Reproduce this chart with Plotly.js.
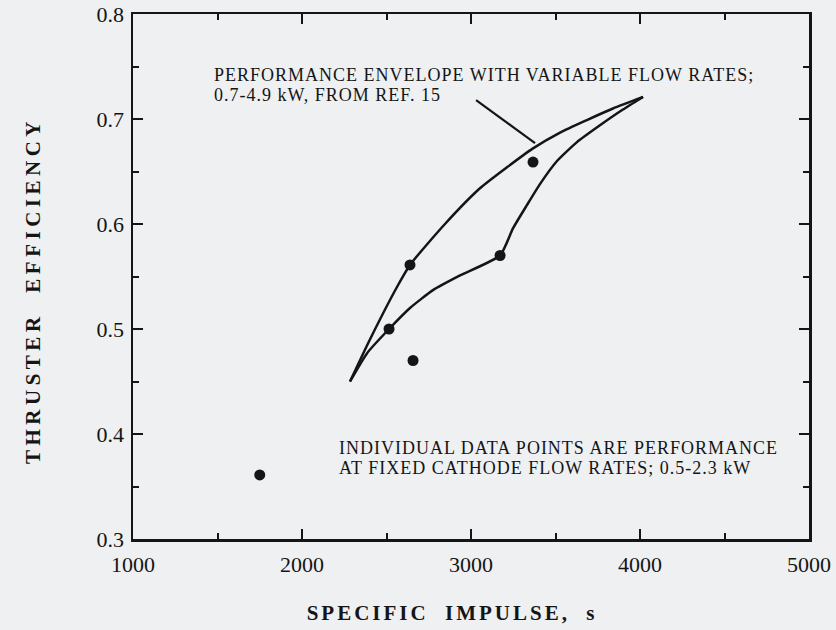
<!DOCTYPE html>
<html>
<head>
<meta charset="utf-8">
<script src="https://cdn.plot.ly/plotly-3.0.1.min.js"></script>
<style>
  html, body { margin: 0; padding: 0; background: #eef0f2; }
  #chart { width: 836px; height: 630px; }
  .xtitle { letter-spacing: 3px; word-spacing: 8px; translate: -19px 0px; }
  .ytitle { letter-spacing: 4.5px; word-spacing: 10px; translate: 0px 14px; }
  .annotation-text { letter-spacing: 1px; }
</style>
</head>
<body>
<div id="chart"></div>
<script>
// Performance envelope (variable flow rates, 0.7-4.9 kW, Ref. 15)
const upperIsp = [2284, 2402, 2562, 2639, 2846, 3053, 3213, 3367, 3527, 3686, 3840, 4018];
const upperEff = [0.450, 0.490, 0.540, 0.561, 0.600, 0.634, 0.654, 0.672, 0.687, 0.699, 0.710, 0.721];
const lowerIsp = [2284, 2385, 2515, 2639, 2775, 2935, 3172, 3249, 3331, 3408, 3509, 3627, 3763, 3899, 4018];
const lowerEff = [0.450, 0.477, 0.500, 0.520, 0.537, 0.551, 0.570, 0.596, 0.618, 0.638, 0.660, 0.678, 0.694, 0.709, 0.721];

// Individual data points at fixed cathode flow rates (0.5-2.3 kW)
const pointIsp = [1750, 2515, 2657, 2639, 3172, 3367];
const pointEff = [0.361, 0.500, 0.470, 0.561, 0.570, 0.659];

// Leader line from the envelope label to the envelope
const leaderIsp = [3030, 3379];
const leaderEff = [0.718, 0.677];

const xTicks = [1000, 2000, 3000, 4000, 5000];
const yTicks = [0.3, 0.4, 0.5, 0.6, 0.7, 0.8];

const envelopeLines = ['PERFORMANCE ENVELOPE WITH VARIABLE FLOW RATES;', '0.7-4.9 kW, FROM REF. 15'];
const envelopeLineY = [0.7422, 0.7230];
const pointsLines = ['INDIVIDUAL DATA POINTS ARE PERFORMANCE', 'AT FIXED CATHODE FLOW RATES; 0.5-2.3 kW'];
const pointsLineY = [0.3869, 0.3677];

const ink = '#151515';
const serif = "'Liberation Serif', 'Times New Roman', serif";

const traces = [
  { x: upperIsp, y: upperEff, mode: 'lines', line: { color: ink, width: 2.5, shape: 'spline', smoothing: 0.6 }, hoverinfo: 'skip' },
  { x: lowerIsp, y: lowerEff, mode: 'lines', line: { color: ink, width: 2.5, shape: 'spline', smoothing: 0.5 }, hoverinfo: 'skip' },
  { x: leaderIsp, y: leaderEff, mode: 'lines', line: { color: ink, width: 2.2 }, hoverinfo: 'skip' },
  { x: pointIsp, y: pointEff, mode: 'markers', marker: { color: ink, size: 11 } }
];

const axisCommon = {
  showgrid: false, zeroline: false,
  showline: true, linecolor: ink, linewidth: 2.5, mirror: 'allticks',
  ticks: 'inside', ticklen: 10, tickwidth: 2, tickcolor: ink,
  tickfont: { family: serif, size: 22, color: ink }
};

const annText = (txt, x, y) => ({
  x: x, y: y, xref: 'x', yref: 'y', xanchor: 'left', yanchor: 'middle', align: 'left',
  showarrow: false, text: txt, font: { family: serif, size: 18, color: ink }
});

const layout = {
  width: 836, height: 630,
  margin: { l: 133, r: 27, t: 14, b: 91 },
  paper_bgcolor: '#eef0f2', plot_bgcolor: '#eef0f2',
  showlegend: false,
  xaxis: Object.assign({}, axisCommon, {
    range: [1000, 5000], tickvals: xTicks, ticktext: xTicks.map(String),
    minor: { dtick: 500, ticks: 'inside', ticklen: 6, tickwidth: 2, tickcolor: ink },
    ticklabelstandoff: 4,
    title: { text: 'SPECIFIC IMPULSE, s', font: { family: serif, size: 21, color: ink, weight: 'bold' }, standoff: 30 }
  }),
  yaxis: Object.assign({}, axisCommon, {
    range: [0.3, 0.8], tickvals: yTicks, ticktext: yTicks.map(v => v.toFixed(1)),
    minor: { dtick: 0.05, ticks: 'inside', ticklen: 6, tickwidth: 2, tickcolor: ink },
    ticklabelstandoff: 2,
    title: { text: 'THRUSTER EFFICIENCY', font: { family: serif, size: 21, color: ink, weight: 'bold' }, standoff: 50 }
  }),
  annotations: [
    annText(envelopeLines[0], 1467, envelopeLineY[0]),
    annText(envelopeLines[1], 1467, envelopeLineY[1]),
    annText(pointsLines[0], 2207, pointsLineY[0]),
    annText(pointsLines[1], 2207, pointsLineY[1])
  ]
};

Plotly.newPlot('chart', traces, layout, { staticPlot: true, displayModeBar: false });
</script>
</body>
</html>
